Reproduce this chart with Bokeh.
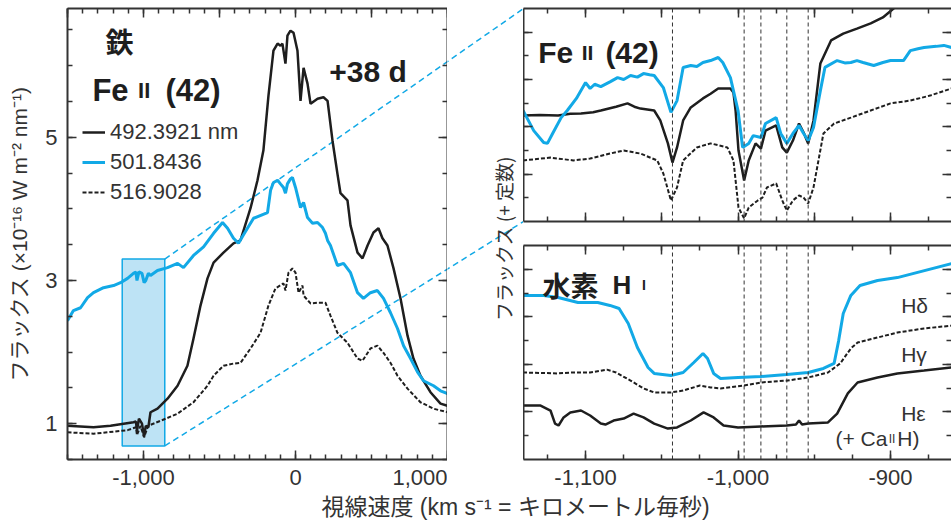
from bokeh.plotting import figure
from bokeh.models import Range1d, LinearAxis, FixedTicker, NumeralTickFormatter, Legend, LegendItem, Span
from bokeh.layouts import row, column
from bokeh.embed import file_html
from bokeh.resources import INLINE
from bokeh.core.properties import value

# ---------------- data ----------------
# Left panel: Fe II (42) line profiles, velocity (km/s) vs flux (1e-16 W m^-2 nm^-1)
fe4923_v = [-1500, -1329, -1217, -1066, -1050, -1043, -1030, -1010, -996, -985, -968, -954, -908, -842, -776,
            -711, -671, -625, -579, -539, -474, -408, -362, -296, -250, -211, -178, -145, -118, -99, -86, -66,
            -53, -33, -13, 13, 33, 53, 79, 99, 145, 184, 211, 243, 276, 296, 342, 362, 408, 441, 474, 513,
            546, 572, 605, 645, 691, 737, 776, 822, 888, 954, 1000]
fe4923_f = [0.97, 0.95, 0.97, 1.02, 1.03, 0.90, 1.07, 1.00, 0.82, 0.97, 0.95, 1.16, 1.21, 1.35, 1.53,
            1.81, 2.19, 2.65, 3.03, 3.25, 3.39, 3.52, 3.56, 4.01, 4.40, 4.82, 5.58, 6.21, 6.31, 6.28, 6.31, 6.03,
            6.42, 6.49, 6.46, 6.21, 5.51, 5.97, 5.75, 5.47, 5.54, 5.56, 5.51, 4.96, 4.49, 4.22, 4.12, 3.77, 3.39,
            3.31, 3.49, 3.67, 3.73, 3.59, 3.49, 3.17, 2.75, 2.23, 1.91, 1.67, 1.44, 1.28, 1.25]

fe5018_v = [-1500, -1461, -1414, -1368, -1329, -1263, -1197, -1151, -1105, -1066, -1050, -1043, -1030, -1010,
            -996, -985, -968, -954, -908, -842, -776, -737, -671, -605, -539, -480, -447, -408, -375, -342,
            -276, -184, -164, -145, -118, -99, -79, -66, -53, -33, -20, 0, 33, 53, 79, 112, 145, 178, 197,
            211, 230, 276, 316, 362, 408, 447, 493, 539, 579, 625, 671, 711, 757, 803, 842, 908, 954, 1000]
fe5018_f = [2.44, 2.58, 2.62, 2.76, 2.83, 2.90, 2.93, 2.97, 3.03, 3.10, 3.12, 3.00, 3.12, 3.10,
            2.97, 3.00, 3.10, 3.07, 3.14, 3.18, 3.24, 3.18, 3.35, 3.47, 3.66, 3.81, 3.73, 3.59, 3.52, 3.64,
            3.87, 3.95, 4.26, 4.37, 4.40, 4.35, 4.30, 4.22, 4.35, 4.42, 4.44, 4.30, 4.02, 4.09, 3.88, 3.80, 3.81,
            3.74, 3.66, 3.56, 3.49, 3.21, 3.24, 3.11, 2.83, 2.75, 2.83, 2.86, 2.75, 2.55, 2.33, 2.09, 1.91,
            1.72, 1.60, 1.53, 1.46, 1.42]

fe5169_v = [-1500, -1329, -1105, -1050, -1043, -1020, -996, -970, -888, -776, -671, -579, -539, -474, -408,
            -362, -296, -230, -178, -132, -79, -66, -46, -20, 0, 20, 46, 53, 99, 145, 197, 230, 276, 342, 408,
            441, 493, 539, 579, 625, 671, 737, 822, 908, 1000]
fe5169_f = [0.88, 0.86, 0.91, 0.95, 0.84, 0.97, 0.81, 0.97, 1.04, 1.14, 1.30, 1.53, 1.67, 1.81, 1.84,
            1.85, 2.05, 2.27, 2.65, 2.89, 2.96, 2.86, 3.11, 3.17, 3.11, 2.83, 2.93, 2.79, 2.68, 2.69, 2.69, 2.51,
            2.27, 2.13, 1.91, 1.88, 2.05, 2.09, 1.99, 1.85, 1.67, 1.49, 1.30, 1.21, 1.16]

line_labels = ["492.3921 nm", "501.8436", "516.9028"]

# Zoomed window (highlighted box) in the left panel
zoom_v = [-1140, -860]
zoom_f = [0.69, 3.30]

# Upper right: Fe II (42), flux + constant
up_blue_v = [-1141, -1134, -1127.5, -1125, -1121.6, -1116, -1112, -1106, -1100, -1097, -1094, -1090, -1084,
             -1079, -1075, -1070.5, -1066, -1062, -1058, -1055, -1049, -1044, -1040, -1036, -1031, -1027,
             -1023, -1018, -1013, -1010, -1005, -1000, -997, -993, -990, -985, -982, -975, -972, -968, -964,
             -960, -957, -954, -950.5, -946, -943, -935, -930, -926, -922, -918, -911, -905, -900, -891.5,
             -887, -882, -878, -870, -865, -860]
up_blue_f = [4.69, 3.84, 3.34, 3.30, 3.72, 4.39, 4.69, 5.20, 5.87, 5.62, 5.80, 5.70, 5.90,
             6.08, 6.00, 6.17, 6.10, 6.25, 6.20, 6.17, 5.66, 4.61, 5.11, 6.51, 6.59, 6.55,
             6.72, 6.80, 6.93, 6.72, 6.08, 4.69, 3.13, 3.30, 3.63, 3.55, 4.14, 4.39, 3.72, 3.30, 3.72,
             4.06, 3.72, 3.42, 3.97, 5.53, 6.51, 6.80, 6.70, 6.72, 6.80, 6.72, 6.59, 6.72, 6.80, 6.80,
             7.22, 7.30, 7.35, 7.40, 7.44, 7.35]
up_black_v = [-1141, -1130, -1118, -1110, -1103, -1095, -1090, -1080, -1072.5, -1068, -1064, -1055, -1051,
              -1046, -1043, -1040, -1036, -1031, -1023, -1018, -1013, -1005, -1003, -1001.6, -999.7, -996,
              -993, -988.5, -985, -982, -975, -971, -968, -964, -960, -957, -954, -950.5, -946, -939, -931,
              -922, -913, -905, -898, -880, -860]
up_black_f = [4.48, 4.50, 4.48, 4.55, 4.56, 4.62, 4.69, 4.85, 4.99, 4.85, 4.77, 4.69, 4.27,
              3.30, 2.49, 3.13, 4.27, 4.82, 5.20, 5.40, 5.62, 5.62, 5.45, 4.69, 3.00, 1.73,
              2.58, 3.30, 3.08, 3.84, 4.06, 3.13, 2.91, 3.42, 4.14, 3.76, 3.30, 4.27, 6.68, 7.65, 7.94,
              8.15, 8.37, 8.62, 9.00, 9.80, 10.50]
up_dash_v = [-1141, -1123, -1108, -1097, -1084, -1075, -1064, -1053, -1049, -1044, -1040, -1036, -1027, -1018,
             -1007, -1003, -999.7, -996, -993, -987, -984, -981, -975, -971, -968, -964, -960, -957, -954,
             -950.5, -944, -937, -926, -913, -900, -887, -874, -860]
up_dash_f = [2.58, 2.70, 2.58, 2.66, 2.87, 3.00, 2.87, 2.58, 2.03, 0.89, 1.44, 2.58, 3.13, 3.30,
             3.13, 2.58, 0.59, 0.13, 0.59, 0.89, 1.01, 1.44, 1.61, 0.89, 0.46, 0.89, 1.10, 1.01, 0.76,
             1.44, 3.72, 4.14, 4.39, 4.69, 4.99, 5.11, 5.32, 5.62]

# Lower right: hydrogen Balmer lines, flux + constant
h_delta_v = [-1141, -1127.5, -1118, -1105, -1092, -1084, -1078, -1072, -1066, -1059, -1055, -1044, -1036,
             -1029, -1023, -1020, -1016, -1011.5, -1000, -985, -968, -954, -944, -937, -934, -931, -926,
             -920, -908.5, -895.5, -860]
h_delta_f = [6.90, 6.90, 6.81, 6.60, 6.60, 6.48, 6.35, 5.72, 4.71, 3.87, 3.62, 3.53, 3.66,
             4.08, 4.46, 4.25, 3.62, 3.41, 3.45, 3.49, 3.57, 3.66, 3.83, 4.04, 5.00, 6.14, 6.90,
             7.32, 7.53, 7.65, 8.24]
h_gamma_v = [-1141, -1118, -1108, -1097, -1086, -1080, -1070.5, -1062, -1055, -1044, -1036, -1025, -1018,
             -1011.5, -996, -985, -967.5, -954, -941, -933, -926, -921.6, -908.5, -895.5, -878, -860]
h_gamma_f = [3.66, 3.62, 3.66, 3.66, 3.78, 3.66, 3.32, 2.99, 2.82, 2.82, 2.90, 3.11, 3.03,
             2.99, 3.11, 3.24, 3.32, 3.45, 3.66, 4.04, 4.67, 4.92, 5.13, 5.34, 5.51, 5.63]
h_eps_v = [-1141, -1129.5, -1123, -1120, -1117.7, -1114.4, -1110, -1103, -1097, -1090, -1087, -1081.6, -1075,
           -1068.5, -1062, -1055, -1046, -1040, -1031, -1022.6, -1016, -1009.5, -1000, -985, -968, -962,
           -960, -958, -954, -941, -935, -928, -921.6, -908.5, -895.5, -878, -860]
h_eps_f = [2.27, 2.27, 2.06, 1.51, 1.43, 1.77, 1.98, 2.06, 1.85, 1.51, 1.47, 1.64, 1.72,
           1.93, 1.77, 1.51, 1.30, 1.35, 1.64, 1.98, 1.77, 1.43, 1.35, 1.39, 1.43, 1.47,
           1.64, 1.47, 1.51, 1.56, 1.93, 2.78, 3.24, 3.45, 3.62, 3.74, 3.87]

# Velocities of the absorption components (vertical dashed lines)
component_v = [-1043, -996, -985, -968, -954]

# ---------------- styling ----------------
BLACK = "#1e1e1e"
BLUE = "#12a9e6"
AX = "#333333"
LATIN = "Liberation Sans"
CJK = "Noto Sans CJK JP"
MIX = "Liberation Sans, Noto Sans CJK JP"


def make_fig(w, h, xr, yr, mbl, mbr, mbt, mbb, axes=True):
    p = figure(width=w, height=h, x_range=xr, y_range=yr, output_backend="svg",
               toolbar_location=None, min_border_left=mbl, min_border_right=mbr,
               min_border_top=mbt, min_border_bottom=mbb,
               x_axis_location="below" if axes else None,
               y_axis_location="left" if axes else None)
    p.grid.visible = False
    p.outline_line_color = None
    p.background_fill_color = "white"
    p.border_fill_color = "white"
    return p


def setup_axis(ax, major, minor, show=False, line=True):
    ax.ticker = FixedTicker(ticks=major, minor_ticks=minor)
    ax.major_tick_in = 9
    ax.major_tick_out = 0
    ax.minor_tick_in = 5
    ax.minor_tick_out = 0
    ax.axis_line_color = AX if line else None
    ax.axis_line_width = 2
    ax.major_tick_line_color = AX
    ax.minor_tick_line_color = AX
    ax.major_tick_line_width = 1.5
    ax.minor_tick_line_width = 1.5
    if show:
        ax.formatter = NumeralTickFormatter(format="0,0")
        ax.major_label_text_font = LATIN
        ax.major_label_text_font_size = "22px"
        ax.major_label_text_color = AX
        ax.major_label_standoff = 10
    else:
        # tick marks only: labels are not painted at all
        ax.major_label_text_color = None
        ax.major_label_text_font_size = "0px"
        ax.major_label_standoff = 0


# geometry of the layout (pixels)
LEFT_W, LEFT_H = 447, 492
LEFT_MB_L, TOP_MB, BOT_MB = 67, 8, 33
MID_W = 76
RIGHT_W = 951 - LEFT_W - MID_W
UP_H, LOW_H = 233, 259
UP_MB_B, LOW_MB_T = 12, 12

lx0, lx1 = -1500, 1000
ly0, ly1 = 0.5, 6.8
left_frame_w = LEFT_W - LEFT_MB_L
left_frame_h = LEFT_H - TOP_MB - BOT_MB
x_per_px = (lx1 - lx0) / left_frame_w
y_per_px = (ly1 - ly0) / left_frame_h

# ---------------- left panel ----------------
left = make_fig(LEFT_W, LEFT_H, Range1d(lx0, lx1), Range1d(ly0, ly1), LEFT_MB_L, 0, TOP_MB, BOT_MB)
left.add_layout(LinearAxis(), "above")
left.add_layout(LinearAxis(), "right")
xmaj_lab = [-1000, 0, 1000]
xmaj_all = [-1500, -1000, -500, 0, 500, 1000]
xmin = list(range(-1500, 1001, 100))
ymaj = [1, 3, 5]
ymin = [0.5 * k for k in range(1, 14)]
setup_axis(left.below[0], xmaj_lab, xmin, show=True)
setup_axis(left.above[0], xmaj_all, xmin)
setup_axis(left.left[0], ymaj, ymin, show=True)
setup_axis(left.right[0], ymaj, ymin)
yl = left.left[0]
yl.axis_label = "フラックス (×10⁻¹⁶ W m⁻² nm⁻¹)"
yl.axis_label_text_font = MIX
yl.axis_label_text_font_style = "normal"
yl.axis_label_text_font_size = "21px"
yl.axis_label_text_color = AX
yl.axis_label_standoff = 11

left.quad(left=[zoom_v[0]], right=[zoom_v[1]], bottom=[zoom_f[0]], top=[zoom_f[1]],
          fill_color="#bde3f5", line_color=BLUE, line_width=1.5)

# connector lines from the zoom box to the upper-right panel's left corners
x_target = lx1 + MID_W * x_per_px
y_top_target = ly1
y_bot_target = ly1 - (UP_H - TOP_MB - UP_MB_B) * y_per_px
conn_xs = [[zoom_v[1], x_target], [zoom_v[1], x_target]]
conn_ys = [[zoom_f[1], y_top_target], [zoom_f[0], y_bot_target]]
left.multi_line(xs=conn_xs, ys=conn_ys, line_color=BLUE, line_width=1.5, line_dash="6 4")

r_dash = left.line(fe5169_v, fe5169_f, line_color=BLACK, line_width=2, line_dash="4 2")
r_black = left.line(fe4923_v, fe4923_f, line_color=BLACK, line_width=2.5)
r_blue = left.line(fe5018_v, fe5018_f, line_color=BLUE, line_width=3)

legend = Legend(items=[LegendItem(label=line_labels[0], renderers=[r_black]),
                       LegendItem(label=line_labels[1], renderers=[r_blue]),
                       LegendItem(label=line_labels[2], renderers=[r_dash])],
                location=(15, 254), orientation="vertical",
                label_text_font=LATIN, label_text_font_size="22px", label_text_color=AX,
                glyph_width=23, glyph_height=24, spacing=4, padding=0, margin=0,
                label_standoff=5, border_line_color=None, background_fill_alpha=0)
left.add_layout(legend)

left.text(x=[-1158], y=[6.34], text=["鉄"], text_font=value(CJK), text_font_style="bold",
          text_font_size="28px", text_color=BLACK, text_align="center", text_baseline="middle")
left.text(x=[-1336, -855], y=[5.65, 5.65], text=["Fe", "(42)"], text_font=value(LATIN),
          text_font_style="bold", text_font_size="31px", text_color=BLACK,
          text_align="left", text_baseline="alphabetic")
left.text(x=[-1036], y=[5.65], text=["II"], text_font=value(LATIN), text_font_style="bold",
          text_font_size="22px", text_color=BLACK, text_align="left", text_baseline="alphabetic")
left.text(x=[477], y=[5.92], text=["+38 d"], text_font=value(LATIN), text_font_style="bold",
          text_font_size="30px", text_color=BLACK, text_align="center", text_baseline="alphabetic")

# ---------------- middle strip ----------------
mid = make_fig(MID_W, LEFT_H, Range1d(lx1, x_target), left.y_range, 0, 0, TOP_MB, BOT_MB, axes=False)
mid.multi_line(xs=conn_xs, ys=conn_ys, line_color=BLUE, line_width=1.5, line_dash="6 4")
mid.text(x=[lx1 + 56 * x_per_px], y=[ly1 - 230 * y_per_px], text=["フラックス (+ 定数)"],
         text_font=value(CJK), text_font_size="19px", text_color=AX, angle=1.5708,
         text_align="center", text_baseline="middle")

# ---------------- right panels ----------------
xr_r = Range1d(-1140.7, -860)
rx_maj_lab = [-1100, -1000, -900]
rx_maj_all = [-1100, -1050, -1000, -950, -900]
rx_min = list(range(-1125, -859, 25))
ry_maj = [2, 4, 6, 8]
ry_min = list(range(1, 9))

upper = make_fig(RIGHT_W, UP_H, xr_r, Range1d(0, 9), 0, 0, TOP_MB, UP_MB_B)
lower = make_fig(RIGHT_W, LOW_H, xr_r, Range1d(0, 9), 0, 0, LOW_MB_T, BOT_MB)
for p in (upper, lower):
    p.add_layout(LinearAxis(), "above")
    p.add_layout(LinearAxis(), "right")
    setup_axis(p.above[0], rx_maj_all, rx_min)
    setup_axis(p.left[0], ry_maj, ry_min)
    setup_axis(p.right[0], ry_maj, ry_min, line=False)
    for v in component_v:
        p.add_layout(Span(location=v, dimension="height", line_color=AX, line_width=1,
                          line_dash="4 3"))
setup_axis(upper.below[0], rx_maj_all, rx_min)
setup_axis(lower.below[0], rx_maj_lab, rx_min, show=True)

upper.line(up_dash_v, up_dash_f, line_color=BLACK, line_width=2, line_dash="4 2")
upper.line(up_black_v, up_black_f, line_color=BLACK, line_width=2.5)
upper.line(up_blue_v, up_blue_f, line_color=BLUE, line_width=3)
upper.text(x=[-1131, -1087], y=[7.14, 7.14], text=["Fe", "(42)"], text_font=value(LATIN),
           text_font_style="bold", text_font_size="30px", text_color=BLACK,
           text_align="left", text_baseline="alphabetic")
upper.text(x=[-1102.5], y=[7.14], text=["II"], text_font=value(LATIN), text_font_style="bold",
           text_font_size="21px", text_color=BLACK, text_align="left", text_baseline="alphabetic")

lower.line(h_gamma_v, h_gamma_f, line_color=BLACK, line_width=2, line_dash="4 2")
lower.line(h_eps_v, h_eps_f, line_color=BLACK, line_width=2.5)
lower.line(h_delta_v, h_delta_f, line_color=BLUE, line_width=3)
lower.text(x=[-1128.2], y=[7.32], text=["水素"], text_font=value(CJK), text_font_style="bold",
           text_font_size="28px", text_color=BLACK, text_align="left", text_baseline="alphabetic")
lower.text(x=[-1082.3], y=[7.32], text=["H"], text_font=value(LATIN), text_font_style="bold",
           text_font_size="26px", text_color=BLACK, text_align="left", text_baseline="alphabetic")
lower.text(x=[-1063], y=[7.32], text=["I"], text_font=value(LATIN), text_font_style="bold",
           text_font_size="14px", text_color=BLACK, text_align="left", text_baseline="alphabetic")
lower.text(x=[-893, -893, -893], y=[6.48, 4.42, 1.93], text=["Hδ", "Hγ", "Hε"],
           text_font=value(LATIN), text_font_size="21px", text_color=AX,
           text_align="left", text_baseline="alphabetic")
lower.text(x=[-902], y=[0.88], text=["(+ Ca"], text_font=value(LATIN), text_font_size="21px",
           text_color=AX, text_align="right", text_baseline="alphabetic")
lower.text(x=[-899], y=[0.88], text=["II"], text_font=value(LATIN), text_font_size="12px",
           text_color=AX, text_align="center", text_baseline="alphabetic")
lower.text(x=[-895.6], y=[0.88], text=["H)"], text_font=value(LATIN), text_font_size="21px",
           text_color=AX, text_align="left", text_baseline="alphabetic")

# ---------------- bottom axis title ----------------
bottom = make_fig(951, 522 - LEFT_H, Range1d(0, 951), Range1d(0, 522 - LEFT_H), 0, 0, 0, 0, axes=False)
bottom.text(x=[515], y=[16], text=["視線速度 (km s⁻¹ = キロメートル毎秒)"], text_font=value(MIX),
            text_font_size="23px", text_color=AX, text_align="center", text_baseline="middle")

layout = column(row(left, mid, column(upper, lower, spacing=0), spacing=0), bottom, spacing=0)

with open("out.html", "w") as f:
    f.write(file_html(layout, INLINE))
